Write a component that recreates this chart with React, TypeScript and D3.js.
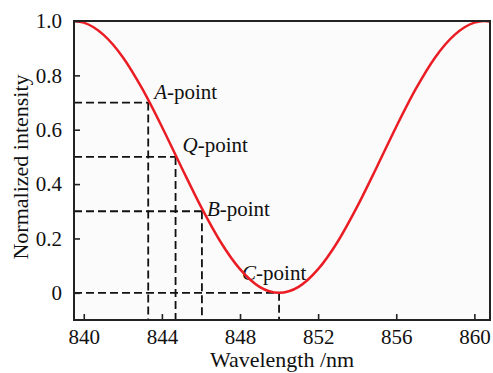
import React, { useRef, useEffect } from 'react';
import * as d3 from 'd3';

// values
const wavelengths = [839.5, 840, 841, 842, 843, 844, 845, 846, 847, 848, 849, 850, 851, 852, 853, 854, 855, 856, 857, 858, 859, 860, 860.5, 860.8];
const intensities = [1.0, 0.994, 0.95, 0.867, 0.75, 0.611, 0.462, 0.317, 0.188, 0.087, 0.022, 0.0, 0.022, 0.087, 0.188, 0.317, 0.462, 0.611, 0.75, 0.867, 0.95, 0.994, 1.0, 0.998];

// marked operating points
const pointNames = ['A', 'Q', 'B', 'C'];
const pointX = [843.3, 844.7, 846.05, 850];
const pointY = [0.7, 0.5, 0.3, 0];

const xTicks = [840, 844, 848, 852, 856, 860];
const yTicks = [0, 0.2, 0.4, 0.6, 0.8, 1.0];

const FONT = 'Liberation Serif';

const App: React.FC = () => {
  const svgRef = useRef<SVGSVGElement>(null);
  const width = 493;
  const height = 373;

  useEffect(() => {
    if (!svgRef.current) return;
    const svg = d3.select(svgRef.current);
    svg.selectAll('*').remove();

    const left = 74, right = 490, top = 21, bottom = 320;

    const x = d3.scaleLinear().domain([839.5, 860.8]).range([left, right]);
    const y = d3.scaleLinear().domain([-0.1, 1.0]).range([bottom, top]);

    const setFont = (sel: any, size: number) =>
      sel.attr('font-family', FONT)
        .style('font-family', FONT)
        .attr('font-size', size)
        .style('font-size', `${size}px`)
        .attr('fill', '#111');

    svg.append('rect')
      .attr('x', left).attr('y', top)
      .attr('width', right - left).attr('height', bottom - top)
      .attr('fill', '#fbfbfb');

    svg.append('clipPath').attr('id', 'plot-clip')
      .append('rect')
      .attr('x', left).attr('y', top)
      .attr('width', right - left).attr('height', bottom - top);

    // dashed guide lines
    const guides = svg.append('g')
      .attr('stroke', '#111')
      .attr('stroke-width', 1.8)
      .attr('stroke-dasharray', '8,4')
      .attr('fill', 'none');
    pointX.forEach((px, i) => {
      guides.append('line')
        .attr('x1', left).attr('x2', x(px))
        .attr('y1', y(pointY[i])).attr('y2', y(pointY[i]));
      guides.append('line')
        .attr('x1', x(px)).attr('x2', x(px))
        .attr('y1', y(pointY[i])).attr('y2', bottom);
    });

    // labels next to each point
    const labelOffsets = [[6, -4], [7, -5], [5, 5], [-37, -13]];
    pointNames.forEach((name, i) => {
      const t = svg.append('text')
        .attr('x', x(pointX[i]) + labelOffsets[i][0])
        .attr('y', y(pointY[i]) + labelOffsets[i][1]);
      setFont(t, 21);
      t.append('tspan').attr('font-style', 'italic').style('font-style', 'italic').text(name);
      t.append('tspan').text('-point');
    });

    // curve
    const line = d3.line<number>()
      .x((_, i) => x(wavelengths[i]))
      .y(d => y(d))
      .curve(d3.curveMonotoneX);
    svg.append('path')
      .datum(intensities)
      .attr('clip-path', 'url(#plot-clip)')
      .attr('d', line)
      .attr('fill', 'none')
      .attr('stroke', '#ea1d25')
      .attr('stroke-width', 2.5);

    // axes with inward ticks
    const xAxis = svg.append('g')
      .attr('transform', `translate(0,${bottom})`)
      .call(d3.axisBottom(x).tickValues(xTicks).tickSizeInner(-6).tickSizeOuter(0).tickPadding(9).tickFormat(d3.format('d')));
    const yAxis = svg.append('g')
      .attr('transform', `translate(${left},0)`)
      .call(d3.axisLeft(y).tickValues(yTicks).tickSizeInner(-6).tickSizeOuter(0).tickPadding(12)
        .tickFormat(d => (+d === 0 ? '0' : d3.format('.1f')(+d))));
    [xAxis, yAxis].forEach(a => {
      a.attr('font-family', FONT);
      a.select('.domain').remove();
      a.selectAll('line').attr('stroke', '#222').attr('stroke-width', 1.6);
      setFont(a.selectAll('text'), 21);
    });

    // frame
    svg.append('rect')
      .attr('x', left).attr('y', top)
      .attr('width', right - left).attr('height', bottom - top)
      .attr('fill', 'none')
      .attr('stroke', '#222')
      .attr('stroke-width', 2);

    // axis titles
    setFont(svg.append('text')
      .attr('x', (left + right) / 2)
      .attr('y', 367)
      .attr('text-anchor', 'middle'), 22)
      .text('Wavelength /nm');
    setFont(svg.append('text')
      .attr('transform', `translate(28,${(72 + 262) / 2}) rotate(-90)`)
      .attr('text-anchor', 'middle'), 22)
      .text('Normalized intensity');
  }, []);

  return (
    <svg
      ref={svgRef}
      width={width}
      height={height}
      style={{ position: 'absolute', left: 0, top: 0, background: '#fff' }}
    ></svg>
  );
};

export default App;
